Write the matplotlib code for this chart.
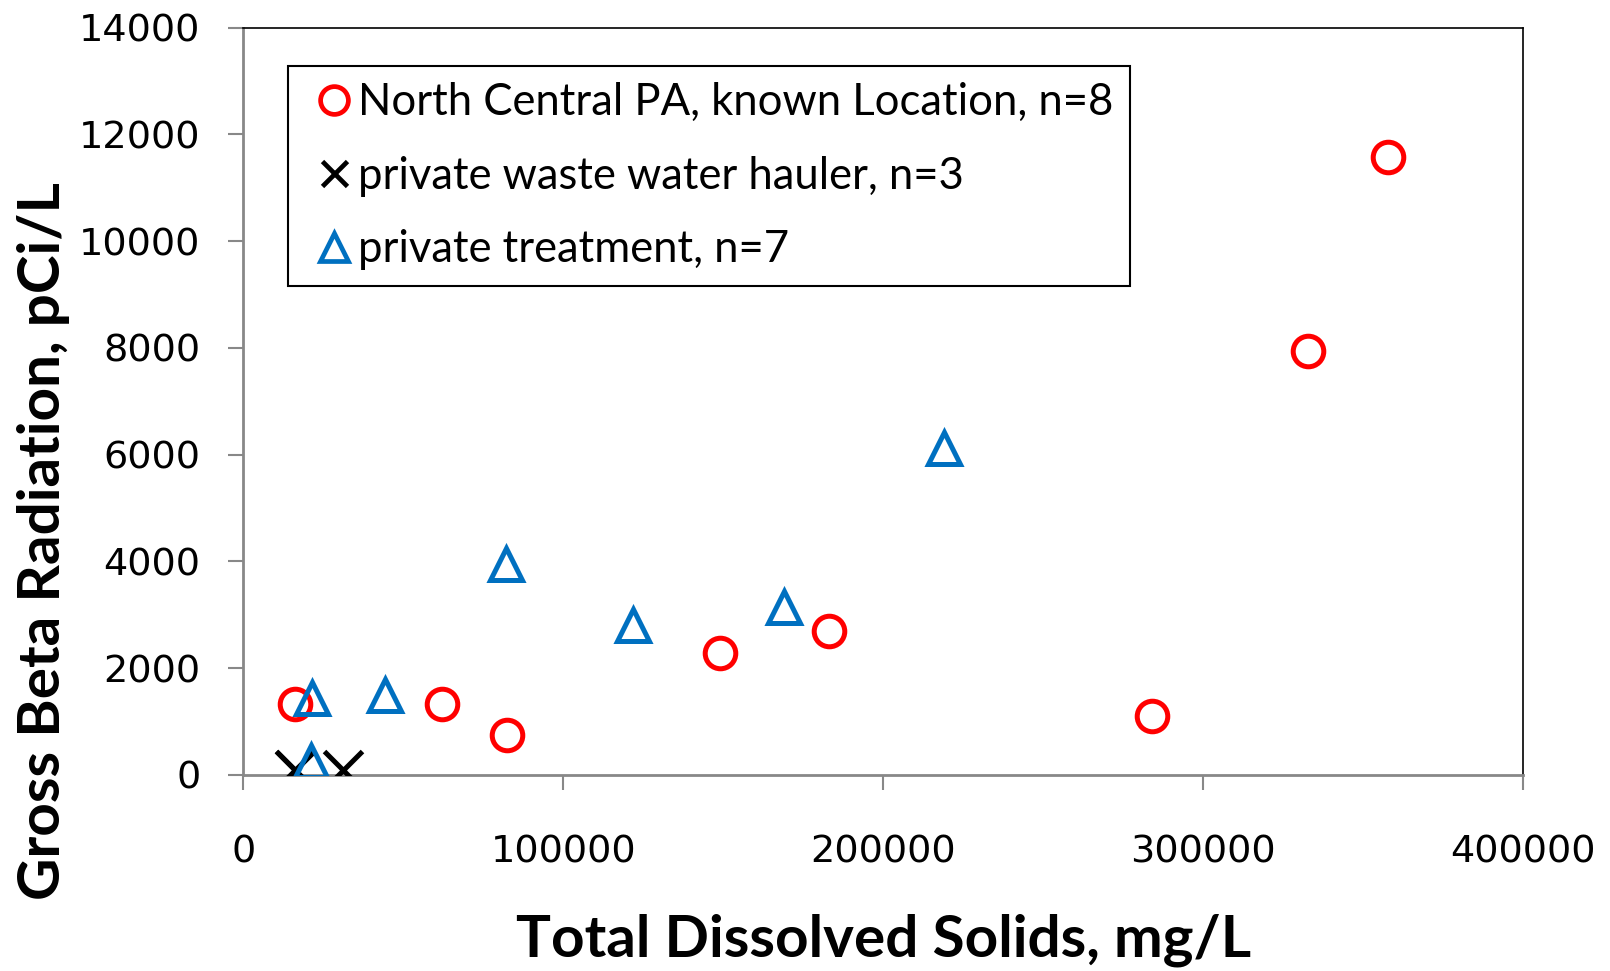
import matplotlib
matplotlib.use("Agg")
import matplotlib.pyplot as plt
from matplotlib.lines import Line2D

# Data
nc_tds = [16000, 62000, 82500, 149000, 183000, 284000, 333000, 358000]
nc_beta = [1330, 1330, 750, 2290, 2690, 1100, 7940, 11580]
hauler_tds = [16000, 16000, 31000]
hauler_beta = [100, 100, 100]
treat_tds = [21500, 21000, 44300, 82000, 121700, 169000, 219000]
treat_beta = [1440, 270, 1500, 3960, 2810, 3150, 6130]

labels = ["North Central PA, known Location, n=8",
          "private waste water hauler, n=3",
          "private treatment, n=7"]
xticks = [0, 100000, 200000, 300000, 400000]
yticks = [0, 2000, 4000, 6000, 8000, 10000, 12000, 14000]

red = "#FF0000"
blue = "#0070C0"

fig = plt.figure(figsize=(16.1, 9.71), dpi=100)
ax = fig.add_axes([0.1512, 0.2019, 0.7946, 0.7696])

ax.plot(nc_tds, nc_beta, linestyle="none", marker="o", markersize=22,
        markerfacecolor="none", markeredgecolor=red, markeredgewidth=3.6, zorder=3)
ax.plot(hauler_tds, hauler_beta, linestyle="none", marker="x", markersize=27,
        markeredgecolor="black", markeredgewidth=3.6, zorder=4)
ax.plot(treat_tds, treat_beta, linestyle="none", marker="^", markersize=23,
        markerfacecolor="none", markeredgecolor=blue, markeredgewidth=3.6, zorder=5)

ax.set_xlim(0, 400000)
ax.set_ylim(0, 14000)
ax.set_xticks(xticks)
ax.set_yticks(yticks)
ax.set_xticklabels([str(v) for v in xticks])
ax.set_yticklabels([str(v) for v in yticks])

for s in ["left", "bottom"]:
    ax.spines[s].set_color("#888888")
    ax.spines[s].set_linewidth(2)
for s in ["top", "right"]:
    ax.spines[s].set_color("black")
    ax.spines[s].set_linewidth(1.2)

ax.tick_params(axis="both", direction="out", length=11, width=1.5, color="#888888",
               labelsize=27.5, labelcolor="black")
ax.tick_params(axis="y", pad=20)
ax.tick_params(axis="x", pad=32)
for lab in ax.get_xticklabels() + ax.get_yticklabels():
    lab.set_fontfamily("DejaVu Sans")

fig.text(0.027, 0.4428, "Gross Beta Radiation, pCi/L", rotation=90, ha="center", va="center",
         fontsize=42, fontweight="bold", family="Lato")
fig.text(0.549, 0.032, "Total Dissolved Solids, mg/L", ha="center", va="center",
         fontsize=42, fontweight="bold", family="Lato")

handles = [
    Line2D([], [], linestyle="none", marker="o", markersize=20, markerfacecolor="none",
           markeredgecolor=red, markeredgewidth=3.4),
    Line2D([], [], linestyle="none", marker="x", markersize=18, markeredgecolor="black",
           markeredgewidth=3.4),
    Line2D([], [], linestyle="none", marker="^", markersize=20, markerfacecolor="none",
           markeredgecolor=blue, markeredgewidth=3.4),
]
leg = ax.legend(handles, labels, loc="upper left", bbox_to_anchor=(0.035, 0.949),
                frameon=True, fancybox=False, edgecolor="black", framealpha=1,
                prop={"family": "Lato", "size": 31.4}, handlelength=1.34, handletextpad=-0.12,
                labelspacing=0.74, borderpad=0.38, borderaxespad=0)
leg.get_frame().set_linewidth(1.5)

fig.savefig("out.png", dpi=100)
